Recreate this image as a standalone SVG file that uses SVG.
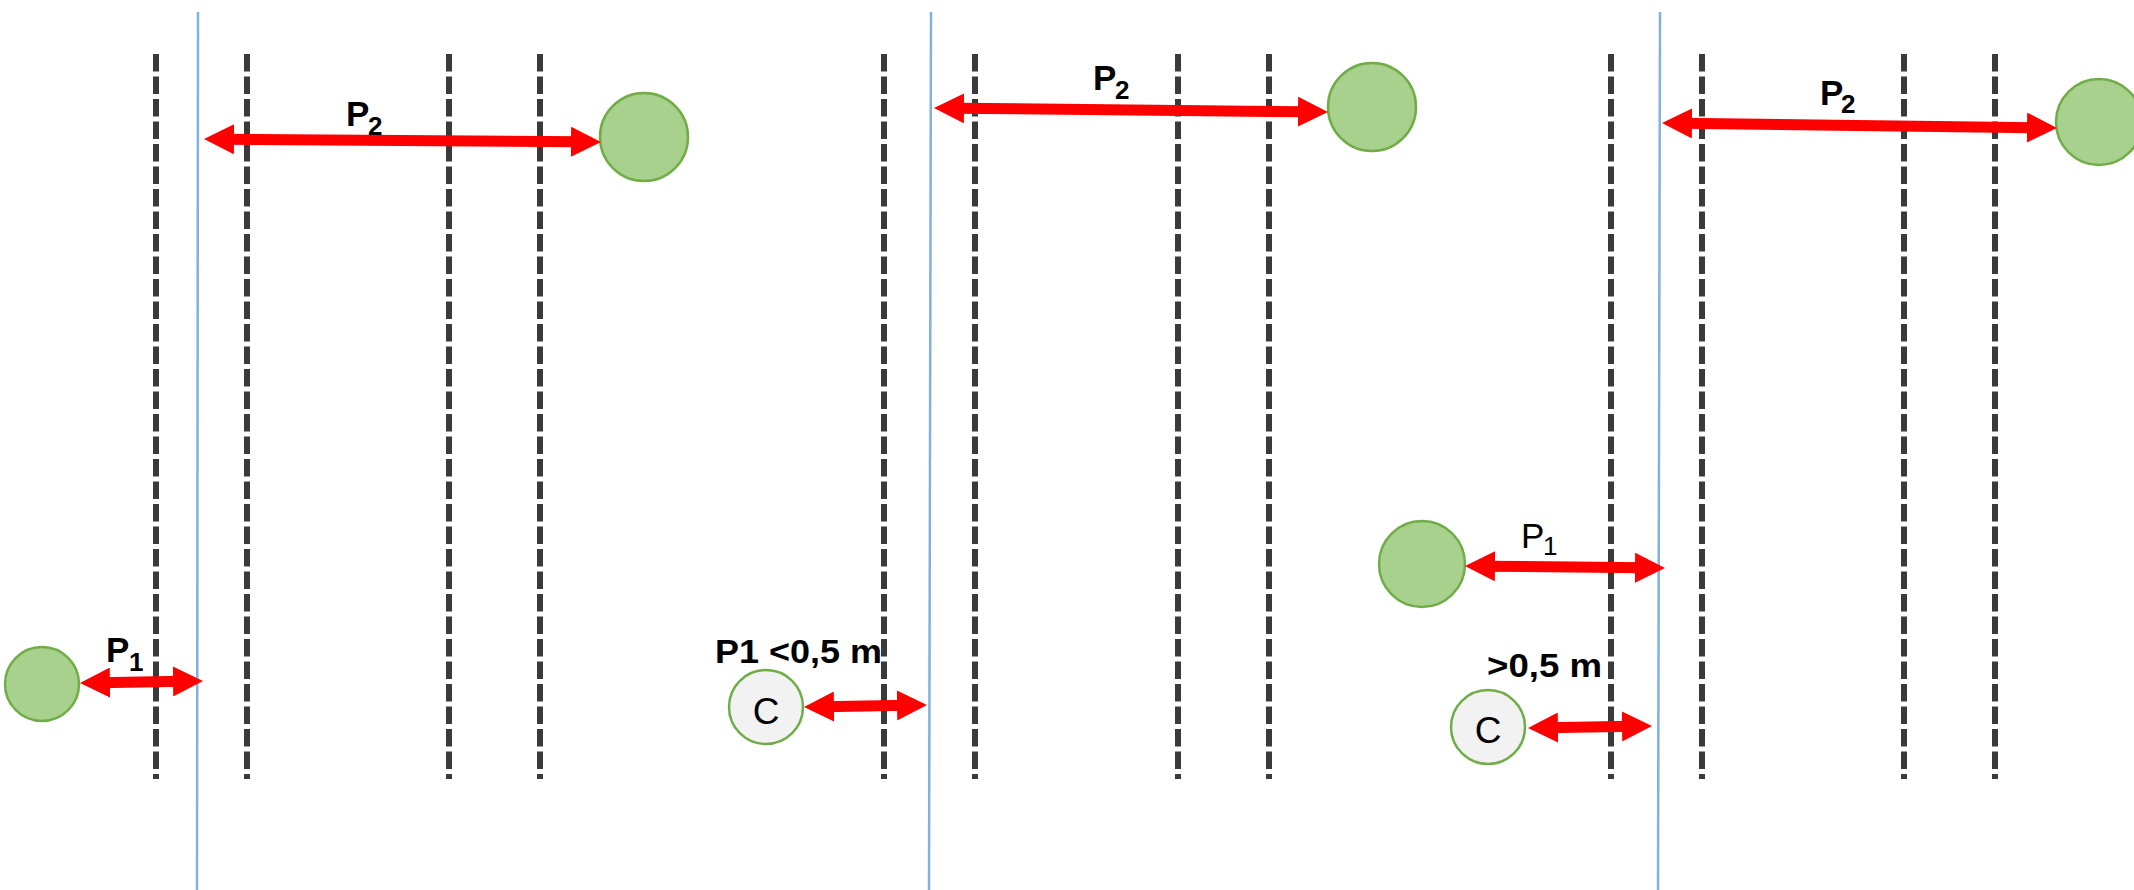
<svg xmlns="http://www.w3.org/2000/svg" width="2134" height="890" viewBox="0 0 2134 890">
  <style>
    .lane { stroke: #3a3a3a; stroke-width: 6; stroke-dasharray: 17.5 5; fill: none; }
    .edge { stroke: #7fb2df; stroke-width: 2.5; fill: none; }
    .tree { fill: #a9d18e; stroke: #70ad47; stroke-width: 2.5; }
    .cand { fill: #f2f2f2; stroke: #70ad47; stroke-width: 2.5; }
    .dim { stroke: #ff0000; stroke-width: 11; fill: none; marker-start: url(#head); marker-end: url(#head); }
    text { font-family: "Liberation Sans", Arial, sans-serif; fill: #000; }
    .lbl { font-size: 35px; font-weight: bold; }
    .lbl-r { font-size: 35px; font-weight: normal; }
    .sub { font-size: 26px; }
    .note { font-size: 33px; font-weight: bold; }
    .c { font-size: 37px; text-anchor: middle; }
  </style>
  <defs>
    <marker id="head" markerUnits="userSpaceOnUse" viewBox="0 0 30 30" markerWidth="30" markerHeight="30" refX="10" refY="15" orient="auto-start-reverse">
      <path d="M0,0 L30,15 L0,30 Z" fill="#ff0000"/>
    </marker>
  </defs>
  <rect width="2134" height="890" fill="#ffffff"/>

  <!-- lane markings (dashed) -->
  <g id="lanes">
    <line class="lane" x1="156" y1="54" x2="156" y2="779"/>
    <line class="lane" x1="247" y1="54" x2="247" y2="779"/>
    <line class="lane" x1="449" y1="54" x2="449" y2="779"/>
    <line class="lane" x1="540" y1="54" x2="540" y2="779"/>
    <line class="lane" x1="884" y1="54" x2="884" y2="779"/>
    <line class="lane" x1="975" y1="54" x2="975" y2="779"/>
    <line class="lane" x1="1178" y1="54" x2="1178" y2="779"/>
    <line class="lane" x1="1269" y1="54" x2="1269" y2="779"/>
    <line class="lane" x1="1611" y1="54" x2="1611" y2="779"/>
    <line class="lane" x1="1702" y1="54" x2="1702" y2="779"/>
    <line class="lane" x1="1904" y1="54" x2="1904" y2="779"/>
    <line class="lane" x1="1995" y1="54" x2="1995" y2="779"/>
  </g>

  <!-- roadway edges -->
  <g id="edges">
    <line class="edge" x1="198" y1="12" x2="197" y2="890"/>
    <line class="edge" x1="931" y1="12" x2="929" y2="890"/>
    <line class="edge" x1="1660" y1="12" x2="1658" y2="890"/>
  </g>

  <!-- trees -->
  <g id="tree-1"><circle class="tree" cx="644" cy="137" r="44"/></g>
  <g id="tree-2"><circle class="tree" cx="1372" cy="107" r="44"/></g>
  <g id="tree-3"><circle class="tree" cx="2099" cy="122" r="43"/></g>
  <g id="tree-4"><circle class="tree" cx="42" cy="684" r="37"/></g>
  <g id="tree-5"><circle class="tree" cx="1422" cy="564" r="43"/></g>

  <!-- "C" markers -->
  <g id="c-1">
    <circle class="cand" cx="766" cy="707" r="37"/>
    <text class="c" x="766" y="724">C</text>
  </g>
  <g id="c-2">
    <circle class="cand" cx="1488" cy="727" r="37"/>
    <text class="c" x="1488" y="743">C</text>
  </g>

  <!-- distance arrows -->
  <g id="connectors">
    <line class="dim" x1="224" y1="139.2" x2="581" y2="141.8"/>
    <line class="dim" x1="954" y1="108.2" x2="1308" y2="111.8"/>
    <line class="dim" x1="1682" y1="123.3" x2="2037" y2="127.7"/>
    <line class="dim" x1="100" y1="682.7" x2="183" y2="681.3"/>
    <line class="dim" x1="824" y1="706.7" x2="907" y2="705.3"/>
    <line class="dim" x1="1485" y1="566.2" x2="1645" y2="567.8"/>
    <line class="dim" x1="1548" y1="727.7" x2="1632" y2="726.3"/>
  </g>

  <!-- arrow labels -->
  <g id="labels">
    <text class="lbl" x="346" y="126">P<tspan class="sub" x="368" y="135">2</tspan></text>
    <text class="lbl" x="1093" y="90">P<tspan class="sub" x="1115" y="99">2</tspan></text>
    <text class="lbl" x="1820" y="105">P<tspan class="sub" x="1841" y="113">2</tspan></text>
    <text class="lbl" x="106" y="662">P<tspan class="sub" x="129" y="671">1</tspan></text>
    <text class="lbl-r" x="1521" y="548">P<tspan class="sub" x="1543" y="555">1</tspan></text>
    <text class="note" x="715" y="663" textLength="167" lengthAdjust="spacingAndGlyphs">P1 &lt;0,5 m</text>
    <text class="note" x="1487" y="677" textLength="115" lengthAdjust="spacingAndGlyphs">&gt;0,5 m</text>
  </g>
</svg>
